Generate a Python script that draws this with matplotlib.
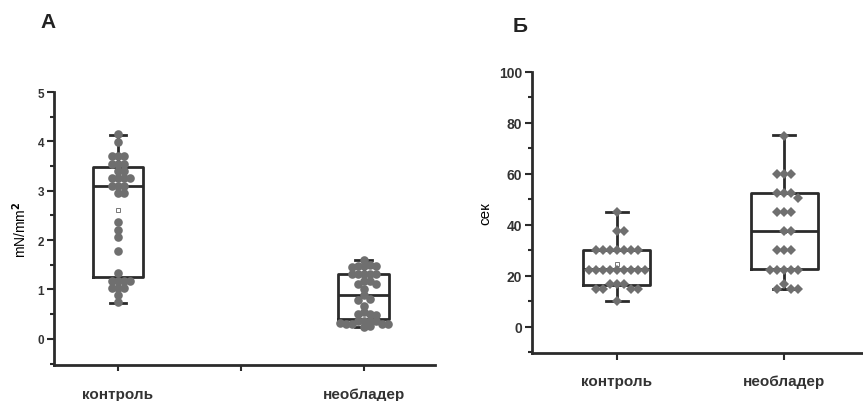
import numpy as np
import matplotlib
matplotlib.use("Agg")
import matplotlib.pyplot as plt
from matplotlib.ticker import MultipleLocator

plt.rcParams['font.family'] = ['Liberation Sans', 'DejaVu Sans']
plt.rcParams['font.weight'] = 'bold'

categories = ['контроль', 'необладер']

# панель А, mN/mm2
a_control = [4.15, 3.99, 3.70, 3.70, 3.70, 3.55, 3.55, 3.55, 3.39, 3.39,
             3.25, 3.25, 3.25, 3.25, 3.10, 3.10, 3.10, 2.96, 2.96, 2.36,
             2.21, 2.06, 1.77, 1.33, 1.18, 1.18, 1.18, 1.18, 1.03, 1.03,
             1.03, 0.88, 0.74]
a_neobl = [1.60, 1.50, 1.48, 1.48, 1.47, 1.45, 1.32, 1.32, 1.32, 1.32,
           1.32, 1.18, 1.18, 1.11, 1.11, 1.01, 0.89, 0.81, 0.78, 0.67,
           0.54, 0.51, 0.51, 0.49, 0.37, 0.37, 0.37, 0.37, 0.30, 0.30,
           0.30, 0.30, 0.24, 0.25, 0.33]
a_q1 = [1.25, 0.40]
a_med = [3.10, 0.89]
a_q3 = [3.48, 1.32]
a_min = [0.73, 0.24]
a_max = [4.13, 1.60]
a_mean = [2.60, 0.89]

# панель Б, сек
b_control = [45, 37.5, 37.5, 30, 30, 30, 30, 30, 30, 30,
             22.5, 22.5, 22.5, 22.5, 22.5, 22.5, 22.5, 22.5, 22.5,
             16.7, 16.7, 16.7, 15, 15, 15, 15, 10]
b_neobl = [75, 60, 60, 60, 52.5, 52.5, 52.5, 50.7, 45, 45, 45,
           37.5, 37.5, 30, 30, 30, 22.5, 22.5, 22.5, 22.5, 22.5,
           16.7, 15, 15, 15]
b_q1 = [16.6, 22.6]
b_med = [22.6, 37.5]
b_q3 = [30.1, 52.5]
b_min = [10.0, 15.0]
b_max = [45.1, 75.2]
b_mean = [24.6, 37.5]

W, H = 863, 402
fig = plt.figure(figsize=(W / 100, H / 100), dpi=100)
axA = fig.add_axes([54 / W, 1 - 366 / H, (435 - 54) / W, (366 - 93) / H])
axB = fig.add_axes([532 / W, 1 - 354 / H, (863 - 532) / W, (354 - 73) / H])

dark = '#2b2b2b'
pgray = '#6f6f6f'


def swarm_x(ax, x0, vals, gap):
    # раскладываем точки с одинаковыми значениями рядом (в пикселях)
    pts = ax.transData.transform(np.column_stack([np.full(len(vals), x0), vals]))
    placed = []
    out = []
    for px, py in pts:
        k = 0
        while True:
            cands = [0] if k == 0 else [k * gap, -k * gap]
            ok = None
            for c in cands:
                if all((px + c - qx) ** 2 + (py - qy) ** 2 >= gap ** 2 * 0.95 for qx, qy in placed):
                    ok = c
                    break
            if ok is not None:
                placed.append((px + ok, py))
                out.append(px + ok)
                break
            k += 1
    back = ax.transData.inverted().transform(np.column_stack([out, pts[:, 1]]))
    return back[:, 0]


def panel(ax, groups, q1, med, q3, lo, hi, mean, width, marker, msize, gap):
    stats = []
    for i in range(2):
        stats.append(dict(med=med[i], q1=q1[i], q3=q3[i], whislo=lo[i],
                          whishi=hi[i], mean=mean[i], fliers=[]))
    ax.bxp(stats, positions=[1, 2], widths=width, showmeans=True,
           boxprops=dict(color=dark, lw=2), medianprops=dict(color=dark, lw=2),
           whiskerprops=dict(color=dark, lw=2), capprops=dict(color=dark, lw=2),
           meanprops=dict(marker='s', markersize=3.5, markerfacecolor='white',
                          markeredgecolor='#777777', markeredgewidth=0.7),
           capwidths=width * 0.33, zorder=2)
    for i, vals in enumerate(groups):
        xs = swarm_x(ax, i + 1, vals, gap)
        ax.plot(xs, vals, linestyle='none', marker=marker, markersize=msize,
                color=pgray, markeredgewidth=0, zorder=3)
    for s in ['top', 'right']:
        ax.spines[s].set_visible(False)
    for s in ['left', 'bottom']:
        ax.spines[s].set_linewidth(2)
        ax.spines[s].set_color(dark)
    ax.tick_params(axis='both', which='both', color=dark, width=1.5, labelcolor='#333333')
    ax.tick_params(axis='y', which='major', length=5)
    ax.tick_params(axis='y', which='minor', length=3)


axA.set_xlim(0.74, 2.29)
axA.set_ylim(-0.53, 5)
axB.set_xlim(0.495, 2.47)
axB.set_ylim(-10.2, 100)

panel(axA, [a_control, a_neobl], a_q1, a_med, a_q3, a_min, a_max, a_mean,
      0.206, 'o', 6.2, 6.0)
panel(axB, [b_control, b_neobl], b_q1, b_med, b_q3, b_min, b_max, b_mean,
      0.40, 'D', 5.0, 7.0)

axA.yaxis.set_major_locator(MultipleLocator(1))
axA.yaxis.set_minor_locator(MultipleLocator(0.5))
axA.set_xticks([1, 1.5, 2])
axA.set_xticklabels([categories[0], '', categories[1]], fontsize=11)
axA.tick_params(axis='x', length=4, pad=12)
axA.tick_params(axis='y', labelsize=8.5, pad=2)
axA.set_ylabel('mN/mm$^\\mathbf{2}$', fontsize=10, labelpad=6)

axB.yaxis.set_major_locator(MultipleLocator(20))
axB.yaxis.set_minor_locator(MultipleLocator(10))
axB.set_xticks([1, 2])
axB.set_xticklabels(categories, fontsize=11)
axB.tick_params(axis='x', length=5, pad=10)
axB.tick_params(axis='y', labelsize=10, pad=2)
axB.set_ylabel('сек', fontsize=11, labelpad=5)

fig.text(40 / W, 1 - 23 / H, 'А', fontsize=15, fontweight='bold', color='#222222', va='center')
fig.text(513 / W, 1 - 26 / H, 'Б', fontsize=15, fontweight='bold', color='#222222', va='center')

fig.savefig('out.png', dpi=100)
